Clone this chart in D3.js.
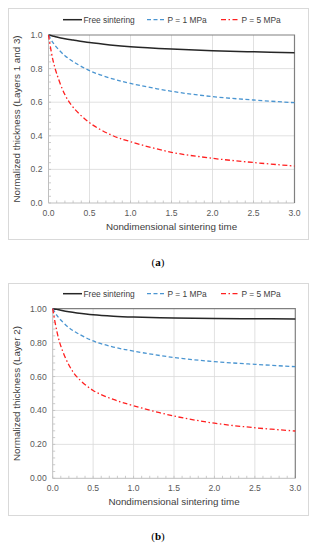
<!DOCTYPE html>
<html>
<head>
<meta charset="utf-8">
<script src="https://cdn.jsdelivr.net/npm/d3@7"></script>
<style>
  html, body { margin: 0; padding: 0; background: #fff; }
  svg { display: block; font-family: "Liberation Sans", Arial, sans-serif; }
</style>
</head>
<body>
<svg id="chart" width="316" height="550"></svg>
<script>
// sampled nondimensional sintering time
const times = [0, 0.05, 0.1, 0.2, 0.3, 0.5, 0.75, 1.0, 1.5, 2.0, 2.5, 3.0];

// panel (a): layers 1 and 3
const freeA = [1, 0.994, 0.988, 0.978, 0.970, 0.955, 0.941, 0.930, 0.916, 0.906, 0.900, 0.895];
const p1A   = [1, 0.958, 0.926, 0.877, 0.842, 0.788, 0.744, 0.712, 0.665, 0.633, 0.613, 0.597];
const p5A   = [1, 0.86, 0.77, 0.645, 0.57, 0.478, 0.408, 0.365, 0.302, 0.266, 0.241, 0.220];

// panel (b): layer 2
const freeB = [1, 0.996, 0.991, 0.982, 0.975, 0.964, 0.956, 0.951, 0.945, 0.942, 0.941, 0.940];
const p1B   = [1, 0.962, 0.933, 0.888, 0.857, 0.810, 0.774, 0.750, 0.712, 0.688, 0.672, 0.658];
const p5B   = [1, 0.87, 0.78, 0.668, 0.598, 0.518, 0.465, 0.428, 0.367, 0.325, 0.298, 0.279];

const seriesNames = ['Free sintering', 'P = 1 MPa', 'P = 5 MPa'];
const xTicks = [0, 0.5, 1.0, 1.5, 2.0, 2.5, 3.0];
const yTicks = [0, 0.2, 0.4, 0.6, 0.8, 1.0];

const styles = [
  { color: '#262626', dash: null, width: 1.5 },
  { color: '#4a95d1', dash: '4,2.5', width: 1.3 },
  { color: '#ff2020', dash: '5,2.5,1.5,2.5', width: 1.3 }
];

const svg = d3.select('#chart');

function drawPanel(cfg) {
  const g = svg.append('g');

  // outer frame
  g.append('rect')
    .attr('x', cfg.box[0] + 0.5).attr('y', cfg.box[1] + 0.5)
    .attr('width', cfg.box[2]).attr('height', cfg.box[3])
    .attr('fill', '#fff').attr('stroke', '#d9d9d9');

  const x = d3.scaleLinear().domain([0, 3]).range([cfg.x0, cfg.x1]);
  const y = d3.scaleLinear().domain([0, 1]).range([cfg.y0, cfg.y1]);

  // grid
  g.append('g').selectAll('line')
    .data(xTicks.slice(1, -1)).enter().append('line')
    .attr('x1', d => x(d)).attr('x2', d => x(d))
    .attr('y1', y(0)).attr('y2', y(1))
    .attr('stroke', '#d9d9d9').attr('stroke-width', 0.8);
  g.append('g').selectAll('line')
    .data(yTicks.slice(1, -1)).enter().append('line')
    .attr('x1', x(0)).attr('x2', x(3))
    .attr('y1', d => y(d)).attr('y2', d => y(d))
    .attr('stroke', '#d9d9d9').attr('stroke-width', 0.8);

  // minor ticks (inside)
  g.append('g').selectAll('line')
    .data(d3.range(0, 3.001, 0.1)).enter().append('line')
    .attr('x1', d => x(d)).attr('x2', d => x(d))
    .attr('y1', y(0)).attr('y2', y(0) - 2.5)
    .attr('stroke', '#bfbfbf').attr('stroke-width', 0.8);
  g.append('g').selectAll('line')
    .data(d3.range(0, 1.001, 0.04)).enter().append('line')
    .attr('x1', x(0)).attr('x2', x(0) + 2.5)
    .attr('y1', d => y(d)).attr('y2', d => y(d))
    .attr('stroke', '#bfbfbf').attr('stroke-width', 0.8);

  // axis lines
  g.append('line').attr('x1', x(0)).attr('x2', x(3)).attr('y1', y(0)).attr('y2', y(0))
    .attr('stroke', '#bfbfbf').attr('stroke-width', 1);
  g.append('line').attr('x1', x(0)).attr('x2', x(0)).attr('y1', y(0)).attr('y2', y(1))
    .attr('stroke', '#bfbfbf').attr('stroke-width', 1);
  // top and right border
  g.append('path')
    .attr('d', `M${x(0)},${y(1)}H${x(3)}V${y(0)}`)
    .attr('fill', 'none').attr('stroke', '#808080').attr('stroke-width', 1.2);

  // tick labels
  g.append('g').selectAll('text')
    .data(xTicks).enter().append('text')
    .attr('x', d => x(d)).attr('y', y(0) + 13)
    .attr('text-anchor', 'middle').attr('font-size', 8.6).attr('fill', '#595959')
    .text(d3.format('.1f'));
  g.append('g').selectAll('text')
    .data(yTicks).enter().append('text')
    .attr('x', x(0) - 6).attr('y', d => y(d) + 3)
    .attr('text-anchor', 'end').attr('font-size', 8.6).attr('fill', '#595959')
    .text(d3.format(cfg.yFmt));

  // titles
  g.append('text')
    .attr('x', (cfg.x0 + cfg.x1) / 2).attr('y', y(0) + 27)
    .attr('text-anchor', 'middle').attr('font-size', 9.8).attr('fill', '#404040')
    .text('Nondimensional sintering time');
  g.append('text')
    .attr('transform', `translate(${cfg.ytx},${(cfg.y0 + cfg.y1) / 2}) rotate(-90)`)
    .attr('text-anchor', 'middle').attr('font-size', 9.8).attr('fill', '#404040')
    .text(cfg.yTitle);

  // series
  const line = d3.line()
    .x((d, i) => x(times[i]))
    .y(d => y(d))
    .curve(d3.curveCatmullRom.alpha(0.5));
  cfg.series.forEach((vals, i) => {
    g.append('path')
      .datum(vals)
      .attr('d', line)
      .attr('fill', 'none')
      .attr('stroke', styles[i].color)
      .attr('stroke-width', styles[i].width)
      .attr('stroke-dasharray', styles[i].dash);
  });

  // legend
  const legX = [63, 147, 221];
  seriesNames.forEach((name, i) => {
    g.append('line')
      .attr('x1', legX[i]).attr('x2', legX[i] + 19)
      .attr('y1', cfg.legY).attr('y2', cfg.legY)
      .attr('stroke', styles[i].color)
      .attr('stroke-width', styles[i].width)
      .attr('stroke-dasharray', styles[i].dash);
    g.append('text')
      .attr('x', legX[i] + 20.5).attr('y', cfg.legY + 3)
      .attr('font-size', 8.4).attr('fill', '#404040')
      .text(name);
  });

  // panel label
  const lab = svg.append('text')
    .attr('x', 158).attr('y', cfg.labY)
    .attr('text-anchor', 'middle')
    .attr('font-family', '"Liberation Serif", "Times New Roman", serif')
    .attr('font-size', 11).attr('fill', '#000');
  lab.append('tspan').text('(');
  lab.append('tspan').attr('font-weight', 'bold').text(cfg.label);
  lab.append('tspan').text(')');
}

drawPanel({
  box: [8, 8, 300, 231],
  x0: 48.5, x1: 294.5, y0: 203, y1: 35,
  yFmt: '.1f', yTitle: 'Normalized thickness (Layers 1 and 3)', ytx: 20,
  series: [freeA, p1A, p5A], legY: 19.7, label: 'a', labY: 266
});

drawPanel({
  box: [8, 283, 300, 232],
  x0: 52.7, x1: 295.3, y0: 478.3, y1: 308.7,
  yFmt: '.2f', yTitle: 'Normalized thickness (Layer 2)', ytx: 20,
  series: [freeB, p1B, p5B], legY: 293.7, label: 'b', labY: 540
});
</script>
</body>
</html>
